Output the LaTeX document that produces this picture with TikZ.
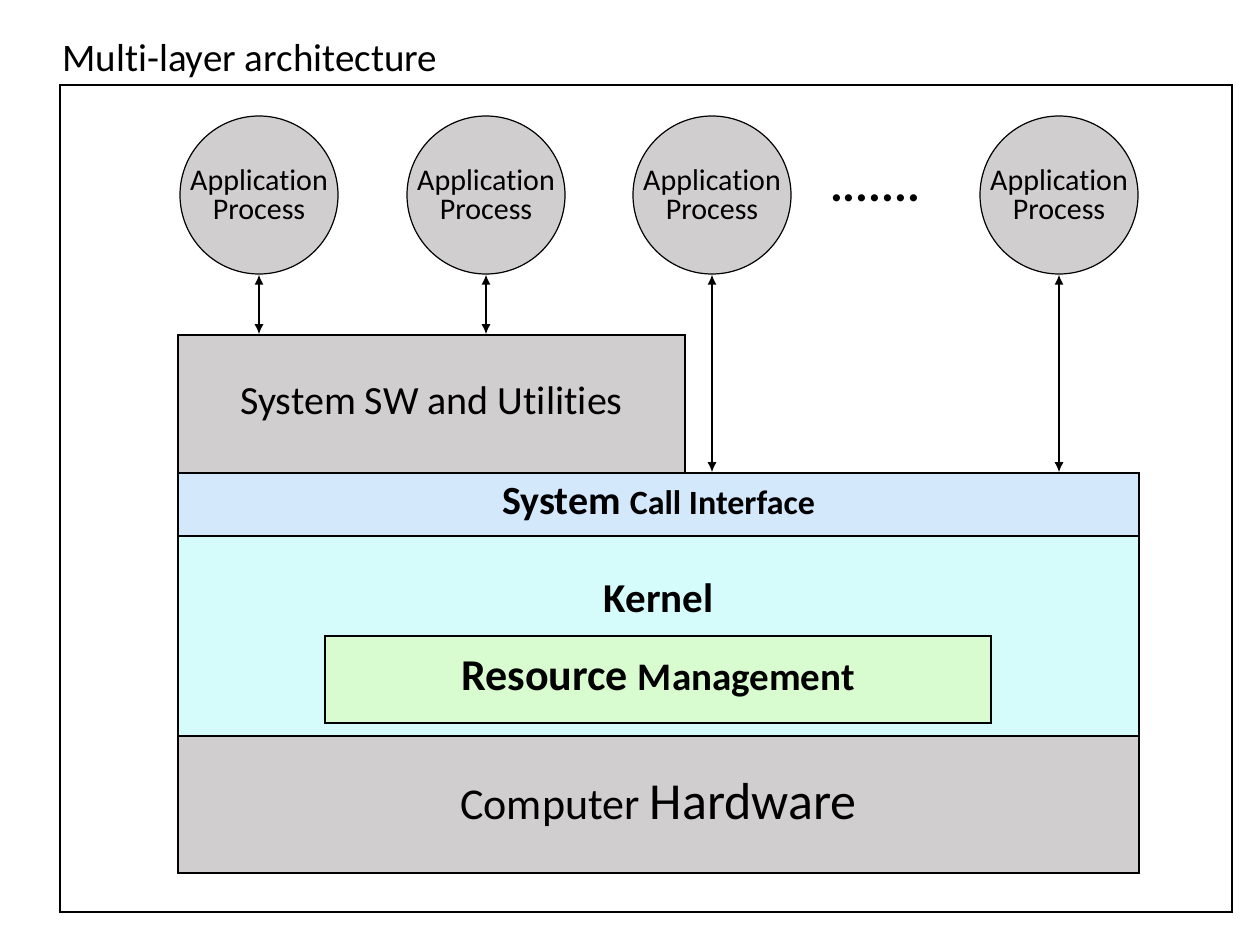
\documentclass[tikz,border=0pt]{standalone}
\usepackage{fontspec}
\setmainfont{Carlito}[Ligatures=NoCommon]
\usepackage{xcolor}
\usetikzlibrary{arrows.meta}
\definecolor{procgray}{HTML}{D0CECE}
\definecolor{callblue}{HTML}{D4E8FB}
\definecolor{kerncyan}{HTML}{D5FBFB}
\definecolor{resgreen}{HTML}{D9FBD0}
\begin{document}
\begin{tikzpicture}[x=0.5pt,y=-0.5pt,
    proc/.style={circle, draw=black, line width=0.6pt, fill=procgray, minimum size=79pt, inner sep=0pt, align=center, font=\fontsize{15}{14.5}\selectfont},
    layer/.style={rectangle, draw=black, line width=0.75pt, inner sep=0pt, minimum width=480.5pt},
    link/.style={black, line width=0.75pt, {Latex[length=5pt,width=4.5pt]}-{Latex[length=5pt,width=4.5pt]}}]
    \useasboundingbox (0,0) rectangle (1260,930);
    \draw[black, line width=0.6pt] (60,85) rectangle (1232,912);
    \node[anchor=base west, inner sep=0pt, font=\fontsize{19.5}{22}\selectfont] (title) at (62,72) {Multi-layer architecture};
    \node[proc] (ap1) at (259,195) {Application\\Process};
    \node[proc] (ap2) at (486,195) {Application\\Process};
    \node[proc] (ap3) at (712,195) {Application\\Process};
    \node[proc] (ap4) at (1059,195) {Application\\Process};
    \node[inner sep=0pt, font=\fontsize{24}{24}\selectfont\bfseries] (dots) at (875,198) {.......};
    \node[layer, fill=procgray, minimum width=253.5pt, minimum height=69pt, font=\fontsize{20}{24}\selectfont] (sysw) at (431.5,404) {System SW and Utilities};
    \node[layer, fill=callblue, minimum height=31.5pt] (sci) at (658.5,504.5) {\bfseries\fontsize{20}{24}\selectfont System \fontsize{17}{20}\selectfont Call Interface};
    \node[layer, fill=kerncyan, minimum height=100pt] (kern) at (658.5,636) {};
    \node[inner sep=0pt, font=\fontsize{20.5}{24}\selectfont\bfseries] (kerntext) at (658.5,598) {Kernel};
    \node[layer, fill=resgreen, minimum width=333pt, minimum height=43.5pt] (res) at (658,679.5) {\raisebox{-1.5pt}{\bfseries\fontsize{22}{24}\selectfont Resource \fontsize{19.5}{24}\selectfont Management}};
    \node[layer, fill=procgray, minimum height=68.5pt] (hw) at (658.5,804.5) {\raisebox{-2pt}{\fontsize{22}{26}\selectfont Computer \fontsize{26}{30}\selectfont Hardware}};
    \draw[link] (ap1.south) -- (ap1.south |- sysw.north);
    \draw[link] (ap2.south) -- (ap2.south |- sysw.north);
    \draw[link] (ap3.south) -- (ap3.south |- sci.north);
    \draw[link] (ap4.south) -- (ap4.south |- sci.north);
\end{tikzpicture}
\end{document}
